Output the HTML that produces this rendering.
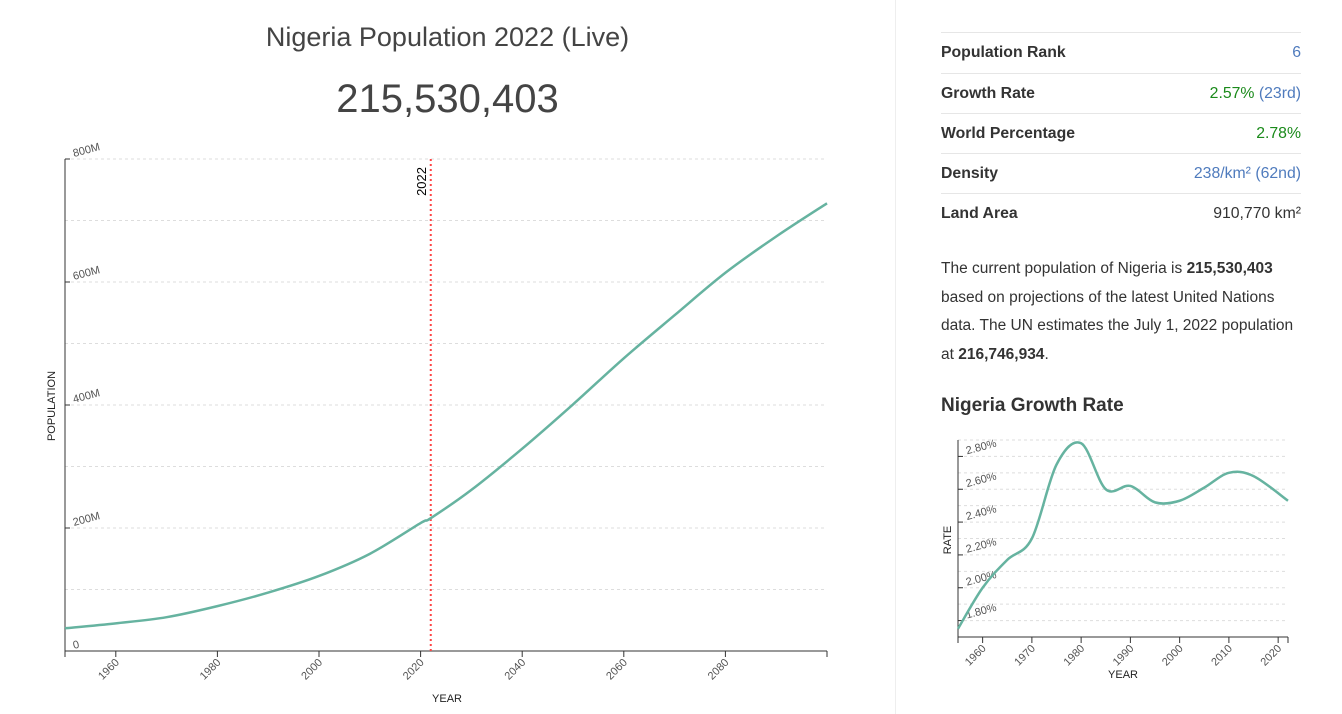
<!DOCTYPE html>
<html><head><meta charset="utf-8"><style>
body{margin:0;width:1342px;height:714px;background:#fff;font-family:"Liberation Sans",Arial,sans-serif;color:#333;position:relative;overflow:hidden}
.abs{position:absolute}
.row{position:absolute;left:941px;width:360px;height:40px;border-top:1px solid #e6e6e6;font-size:15.8px;line-height:40px}
.row b{color:#333}
.row span{position:absolute;right:0;top:0}
</style></head><body>
<div class="abs" style="left:895px;top:0;width:1px;height:714px;background:#eee"></div>
<div class="abs" style="left:0;width:895px;top:22px;text-align:center;font-size:27px;color:#444">Nigeria Population 2022 (Live)</div>
<div class="abs" style="left:0;width:895px;top:77px;text-align:center;font-size:40px;color:#444">215,530,403</div>

<div class="row" style="top:32px"><b>Population Rank</b><span style="color:#4f7bbd">6</span></div>
<div class="row" style="top:73px"><b>Growth Rate</b><span><span style="position:static;color:#1a8a1a">2.57%</span> <span style="position:static;color:#4f7bbd">(23rd)</span></span></div>
<div class="row" style="top:113px"><b>World Percentage</b><span style="color:#1a8a1a">2.78%</span></div>
<div class="row" style="top:153px"><b>Density</b><span style="color:#4f7bbd">238/km² (62nd)</span></div>
<div class="row" style="top:193px"><b>Land Area</b><span style="color:#333">910,770 km²</span></div>
<div class="abs" style="left:941px;top:255px;width:362px;font-size:15.5px;line-height:28.5px;color:#333">The current population of Nigeria is <b>215,530,403</b> based on projections of the latest United Nations data. The UN estimates the July 1, 2022 population at <b>216,746,934</b>.</div>
<div class="abs" style="left:941px;top:395px;font-size:19px;font-weight:bold;color:#333">Nigeria Growth Rate</div>

<svg id="main" class="abs" style="left:0;top:0" width="895" height="714"></svg>
<svg id="rate" class="abs" style="left:895px;top:0" width="447" height="714"></svg>

<script>
const popYears=[1950,1960,1970,1980,1990,2000,2010,2020,2022,2030,2040,2050,2060,2070,2080,2090,2100];
const popValues=[37,45,55,73,95,122,158,208,216,262,329,401,476,546,615,674,728];
const popYTicks=[0,200,400,600,800];
const popYTickLabels=["0","200M","400M","600M","800M"];
const popXTicks=[1960,1980,2000,2020,2040,2060,2080];
const markerYear=2022;

const rateYears=[1955,1960,1965,1970,1975,1980,1985,1990,1995,2000,2005,2010,2015,2022];
const rateValues=[1.75,2.0,2.17,2.3,2.75,2.88,2.6,2.62,2.52,2.53,2.61,2.70,2.68,2.53];
const rateYTicks=[1.8,2.0,2.2,2.4,2.6,2.8];
const rateYTickLabels=["1.80%","2.00%","2.20%","2.40%","2.60%","2.80%"];
const rateXTicks=[1960,1970,1980,1990,2000,2010,2020];

const NS="http://www.w3.org/2000/svg";
function mk(p,t,a){const e=document.createElementNS(NS,t);for(const k in a)e.setAttribute(k,a[k]);p.appendChild(e);return e;}
function smooth(pts){let d="M"+pts[0][0]+","+pts[0][1];for(let i=0;i<pts.length-1;i++){const p0=pts[Math.max(0,i-1)],p1=pts[i],p2=pts[i+1],p3=pts[Math.min(pts.length-1,i+2)];
const c1=[p1[0]+(p2[0]-p0[0])/6,p1[1]+(p2[1]-p0[1])/6],c2=[p2[0]-(p3[0]-p1[0])/6,p2[1]-(p3[1]-p1[1])/6];d+="C"+c1+" "+c2+" "+p2;}return d;}

function chart(svg,o){
  const x=v=>o.x0+(v-o.xmin)/(o.xmax-o.xmin)*(o.x1-o.x0);
  const y=v=>o.y0-(v-o.ymin)/(o.ymax-o.ymin)*(o.y0-o.y1);
  o.grid.forEach(g=>{const l=mk(svg,"line",{x1:o.x0,x2:o.x1,y1:y(g),y2:y(g),stroke:"#ddd","stroke-dasharray":"3,3"});
    
    });
  const ax=mk(svg,"path",{d:`M${o.x0},${o.y1}V${o.y0}H${o.x1}`,stroke:"#333",fill:"none"});
  
  
  mk(svg,"line",{x1:o.x1,x2:o.x1,y1:o.y0,y2:o.y0+6,stroke:"#333"});
  mk(svg,"line",{x1:o.x0,x2:o.x0,y1:o.y0,y2:o.y0+6,stroke:"#333"});
  o.yt.forEach((t,i)=>{mk(svg,"line",{x1:o.x0,x2:o.x0+5,y1:y(t),y2:y(t),stroke:"#333"});
    const tx=mk(svg,"text",{x:o.x0+9,y:y(t)-2,"font-size":o.fs,fill:"#555",transform:`rotate(-15 ${o.x0+9} ${y(t)-2})`});tx.textContent=o.ytl[i];
    
    });
  o.xt.forEach(t=>{mk(svg,"line",{x1:x(t),x2:x(t),y1:o.y0,y2:o.y0+6,stroke:"#333"});
    const tx=mk(svg,"text",{x:x(t)+4,y:o.y0+12,"font-size":o.fs,fill:"#555","text-anchor":"end",transform:`rotate(-45 ${x(t)+4} ${o.y0+12})`});tx.textContent=t;
    
    });
  const xl=mk(svg,"text",{x:o.xlx,y:o.xly,"font-size":11,fill:"#222","text-anchor":"middle"});xl.textContent="YEAR";
  
  
  const yl=mk(svg,"text",{x:0,y:0,"font-size":11,fill:"#222","text-anchor":"middle",transform:`translate(${o.ylx},${o.yly}) rotate(-90)`});yl.textContent=o.ylab;
  
  
  if(o.marker){const mx=x(o.marker);const ml=mk(svg,"line",{x1:mx,x2:mx,y1:o.y1,y2:o.y0,stroke:"#ff4444","stroke-width":2,"stroke-dasharray":"2,3"});
    
    
    const mt=mk(svg,"text",{x:0,y:0,"font-size":13,fill:"#000","text-anchor":"end",transform:`translate(${mx-5},${o.y1+8}) rotate(-90)`});mt.textContent=o.marker;
    
    }
  const pts=o.xs.map((v,i)=>[x(v),y(o.ys[i])]);
  const ln=mk(svg,"path",{d:smooth(pts),stroke:"#66b3a0","stroke-width":2.5,fill:"none"});
  
  
}
chart(document.getElementById("main"),{x0:65,x1:827,y0:651,y1:159,xmin:1950,xmax:2100,ymin:0,ymax:800,
  grid:[100,200,300,400,500,600,700,800],yt:popYTicks,ytl:popYTickLabels,xt:popXTicks,xs:popYears,ys:popValues,
  fs:11,xlx:447,xly:702,ylab:"POPULATION",ylx:55,yly:406,marker:markerYear});
chart(document.getElementById("rate"),{x0:63,x1:393,y0:637,y1:440,xmin:1955,xmax:2022,ymin:1.7,ymax:2.9,
  grid:[1.8,1.9,2.0,2.1,2.2,2.3,2.4,2.5,2.6,2.7,2.8,2.9],yt:rateYTicks,ytl:rateYTickLabels,xt:rateXTicks,xs:rateYears,ys:rateValues,
  fs:11,xlx:228,xly:678,ylab:"RATE",ylx:56,yly:540});
</script>
</body></html>
